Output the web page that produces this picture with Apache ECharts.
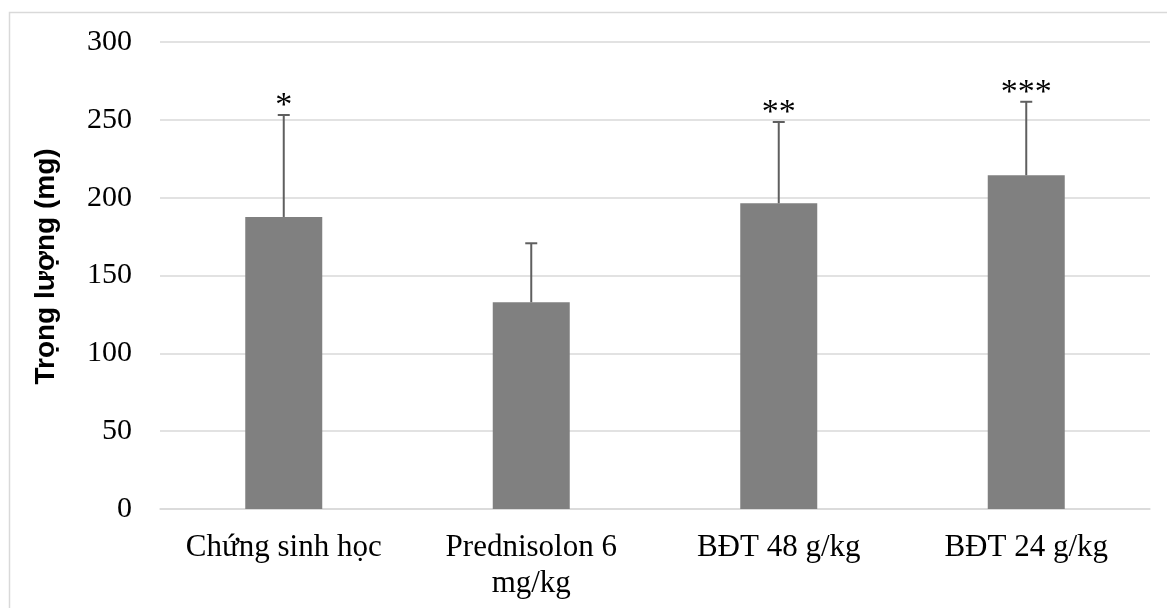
<!DOCTYPE html>
<html>
<head>
<meta charset="utf-8">
<script src="https://cdn.jsdelivr.net/npm/echarts@6/dist/echarts.min.js"></script>
<style>
html,body{margin:0;padding:0;background:#fff;}
#chart{width:1167px;height:608px;}
</style>
</head>
<body>
<div id="chart"></div>
<script>
const categories = ['Chứng sinh học', 'Prednisolon 6\nmg/kg', 'BĐT 48 g/kg', 'BĐT 24 g/kg'];
const means = [187.6, 132.8, 196.4, 214.4];
const errors = [65.5, 37.9, 52.2, 47.2];
const marks = ['*', '', '**', '***'];
const yTicks = { min: 0, max: 300, interval: 50 };

const chart = echarts.init(document.getElementById('chart'));
const errData = categories.map((c, i) => [i, means[i], errors[i]]);

chart.setOption({
  animation: false,
  backgroundColor: '#fff',
  graphic: [{
    type: 'rect', left: 7, top: 10, z: -10, silent: true,
    shape: { width: 1200, height: 700 },
    style: { fill: 'none', stroke: '#d9d9d9', lineWidth: 1.5 }
  }],
  grid: { left: 160, right: 17, top: 42, bottom: 99, containLabel: false },
  xAxis: {
    type: 'category',
    data: categories,
    axisLine: { show: true, lineStyle: { color: '#d9d9d9', width: 1.5 } },
    axisTick: { show: false },
    axisLabel: {
      interval: 0, margin: 21, color: '#000',
      fontFamily: 'Liberation Serif', fontSize: 31, lineHeight: 36
    }
  },
  yAxis: {
    type: 'value',
    min: yTicks.min, max: yTicks.max, interval: yTicks.interval,
    name: 'Trọng lượng (mg)',
    nameLocation: 'middle',
    nameGap: 100,
    nameRotate: 90,
    nameTextStyle: { fontFamily: 'Liberation Sans', fontWeight: 'bold', fontSize: 28, color: '#000', padding: [0, 0, 0, 18] },
    axisLine: { show: false },
    axisTick: { show: false },
    splitLine: { lineStyle: { color: '#d9d9d9', width: 1.5 } },
    axisLabel: { color: '#000', fontFamily: 'Liberation Serif', fontSize: 30, margin: 28 }
  },
  series: [{
    type: 'bar',
    data: means,
    barWidth: 77,
    itemStyle: { color: '#808080' },
    z: 2
  }, {
    type: 'custom',
    data: errData,
    z: 3,
    renderItem: function (params, api) {
      const i = api.value(0);
      const m = api.value(1);
      const e = api.value(2);
      const s = marks[params.dataIndex];
      const p0 = api.coord([i, m]);
      const p1 = api.coord([i, m + e]);
      const children = [
        { type: 'line', shape: { x1: p0[0], y1: p0[1], x2: p1[0], y2: p1[1] }, style: { stroke: '#5f5f5f', lineWidth: 2 } },
        { type: 'line', shape: { x1: p1[0] - 6, y1: p1[1], x2: p1[0] + 6, y2: p1[1] }, style: { stroke: '#5f5f5f', lineWidth: 2 } }
      ];
      if (s) {
        children.push({
          type: 'text',
          style: {
            text: s, x: p1[0], y: p1[1] + 8,
            align: 'center', verticalAlign: 'bottom',
            fontFamily: 'Liberation Serif', fontSize: 34, fill: '#000'
          }
        });
      }
      return { type: 'group', children: children };
    }
  }]
});
</script>
</body>
</html>
